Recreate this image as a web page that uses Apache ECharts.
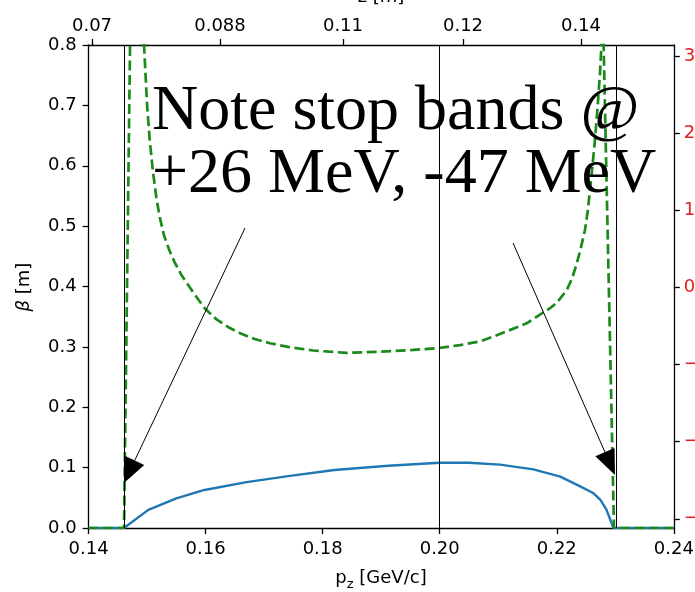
<!DOCTYPE html>
<html>
<head>
<meta charset="utf-8">
<script src="https://cdn.jsdelivr.net/npm/echarts@6/dist/echarts.min.js"></script>
<style>html,body{margin:0;padding:0;background:#fff}#c{width:695px;height:592px}</style>
</head>
<body>
<div id="c"></div>
<script>
// ---- data ----
const pzBlue   = [0.140, 0.14605, 0.1502, 0.1550, 0.1598, 0.1670, 0.1741, 0.1820, 0.1912, 0.2000, 0.2050, 0.2103, 0.2160, 0.2206, 0.2240, 0.2262, 0.2275, 0.2285, 0.2297, 0.2400];
const betaBlue = [0, 0, 0.030, 0.049, 0.063, 0.076, 0.086, 0.096, 0.103, 0.108, 0.108, 0.105, 0.097, 0.085, 0.069, 0.058, 0.046, 0.030, 0, 0];

const pzGreen   = [0.140, 0.14605, 0.1476, 0.14947, 0.15000, 0.15044, 0.15100, 0.15157, 0.15215, 0.15288, 0.15380, 0.15471, 0.15580, 0.15699, 0.15840, 0.15984, 0.16180, 0.16382, 0.16600, 0.16838, 0.17100, 0.17407, 0.17835, 0.18410, 0.18980, 0.19543, 0.19983, 0.20346, 0.20688, 0.20916, 0.21486, 0.21884, 0.2200, 0.22170, 0.2226, 0.22341, 0.2241, 0.22483, 0.2253, 0.22568, 0.2261, 0.22653, 0.2270, 0.22739, 0.2279, 0.22978, 0.240];
const betaGreen = [0, 0, 1.2, 0.800, 0.700, 0.643, 0.590, 0.548, 0.515, 0.485, 0.460, 0.440, 0.420, 0.403, 0.383, 0.364, 0.346, 0.333, 0.322, 0.313, 0.306, 0.300, 0.294, 0.290, 0.292, 0.295, 0.298, 0.303, 0.309, 0.317, 0.339, 0.364, 0.373, 0.394, 0.413, 0.438, 0.463, 0.494, 0.525, 0.560, 0.600, 0.643, 0.700, 0.754, 0.85, 0, 0];

const vLines = [0.14605, 0.2000, 0.2301];

const topTickPz    = [0.14058, 0.16245, 0.18347, 0.20398, 0.22414];
const topTickLabel = ['0.07', '0.088', '0.11', '0.12', '0.14'];

const rightTicks = [-3, -2, -1, 0, 1, 2, 3];

const noteLines = ['Note stop bands @', '+26 MeV, -47 MeV'];
// annotation anchors in data coords [pz, beta]
const arrowStarts = [[0.16673, 0.4969], [0.21253, 0.4720]];
const arrowTips   = [[0.14605, 0.0745], [0.22995, 0.0878]];
const notePos     = [[0.15083, 0.689], [0.15083, 0.584]];

const zip = (a, b) => a.map((v, i) => [v, b[i]]);

const F = 'DejaVu Sans';
const FS = 18;

const chart = echarts.init(document.getElementById('c'), null, {renderer: 'canvas'});

const axisLineStyle = {color: '#000', width: 1.3};

const option = {
  animation: false,
  backgroundColor: '#fff',
  grid: {left: 88.6, right: 21.2, top: 45, bottom: 64, containLabel: false, outerBoundsMode: 'none'},
  xAxis: [
    {
      type: 'value', position: 'bottom', min: 0.14, max: 0.24, interval: 0.02,
      axisLine: {show: true, onZero: false, lineStyle: axisLineStyle},
      axisTick: {show: true, length: 6, lineStyle: axisLineStyle},
      axisLabel: {show: true, margin: 12, color: '#000', fontFamily: F, fontSize: FS,
        formatter: v => v.toFixed(2)},
      splitLine: {show: false}
    },
    {
      type: 'value', position: 'top', min: 0.14, max: 0.24,
      axisLine: {show: true, onZero: false, lineStyle: axisLineStyle},
      axisTick: {show: true, length: 6, customValues: topTickPz, lineStyle: axisLineStyle},
      axisLabel: {show: true, margin: 10, color: '#000', fontFamily: F, fontSize: FS,
        customValues: topTickPz,
        formatter: v => {
          let best = 0, d = 1e9;
          topTickPz.forEach((t, i) => { if (Math.abs(t - v) < d) { d = Math.abs(t - v); best = i; } });
          return topTickLabel[best];
        }},
      splitLine: {show: false}
    }
  ],
  yAxis: [
    {
      type: 'value', position: 'left', min: 0, max: 0.8, interval: 0.1,
      axisLine: {show: true, onZero: false, lineStyle: axisLineStyle},
      axisTick: {show: true, length: 6, lineStyle: axisLineStyle},
      axisLabel: {show: true, margin: 12, color: '#000', fontFamily: F, fontSize: FS,
        formatter: v => v.toFixed(1)},
      splitLine: {show: false}
    },
    {
      type: 'value', position: 'right', min: -3.12, max: 3.15,
      axisLine: {show: true, onZero: false, lineStyle: axisLineStyle},
      axisTick: {show: true, length: 6, customValues: rightTicks, lineStyle: axisLineStyle},
      axisLabel: {show: true, margin: 10, color: '#e02020', fontFamily: F, fontSize: FS,
        customValues: rightTicks, formatter: v => String(Math.round(v)).replace('-', '\u2212')},
      splitLine: {show: false}
    }
  ],
  series: [
    {
      type: 'line', name: 'vlines', xAxisIndex: 0, yAxisIndex: 0, data: [],
      markLine: {
        silent: true, precision: 6, symbol: ['none', 'none'], label: {show: false},
        lineStyle: {color: '#000', width: 1, type: 'solid'},
        emphasis: {disabled: true},
        data: vLines.map(v => ({xAxis: v}))
      }
    },
    {
      type: 'line', name: 'beta1', xAxisIndex: 0, yAxisIndex: 0,
      data: zip(pzBlue, betaBlue), showSymbol: false, symbol: 'none', clip: true,
      lineStyle: {color: '#1f77b4', width: 2.4}
    },
    {
      type: 'line', name: 'beta2', xAxisIndex: 0, yAxisIndex: 0,
      data: zip(pzGreen, betaGreen), showSymbol: false, symbol: 'none', clip: true,
      lineStyle: {color: '#1a8a1a', width: 2.7, type: [10, 4.5]}
    }
  ]
};
chart.setOption(option);

function px(p) { return chart.convertToPixel({xAxisIndex: 0, yAxisIndex: 0}, p); }

const g = [];
// axis names
g.push({type: 'text', x: 381, y: 578, style: {
  text: 'p{s|z} [GeV/c]', font: FS + 'px "' + F + '"', fill: '#000', align: 'center', verticalAlign: 'middle',
  rich: {s: {fontSize: 13, fontFamily: F, lineHeight: 26, verticalAlign: 'bottom'}}
}});
g.push({type: 'text', x: 24, y: 287, rotation: Math.PI / 2, style: {
  text: '{b|β} [m]', font: FS + 'px "' + F + '"', fill: '#000', align: 'center', verticalAlign: 'middle',
  rich: {b: {fontStyle: 'italic', fontSize: FS, fontFamily: F}}
}});
g.push({type: 'text', x: 381, y: -3, style: {
  text: 'z [m]', font: FS + 'px "' + F + '"', fill: '#000', align: 'center', verticalAlign: 'middle'
}});
// note text
noteLines.forEach((t, i) => {
  const p = px(notePos[i]);
  g.push({type: 'text', x: p[0], y: p[1], z: 100, style: {
    text: t, font: '64px "Liberation Serif"', fill: '#000', align: 'left', verticalAlign: 'middle'
  }});
});
// arrows
arrowStarts.forEach((s, i) => {
  const a = px(s), b = px(arrowTips[i]);
  const dx = b[0] - a[0], dy = b[1] - a[1], L = Math.hypot(dx, dy);
  const ux = dx / L, uy = dy / L, hl = 25, hw = 10.5;
  const bx = b[0] - ux * hl, by = b[1] - uy * hl;
  g.push({type: 'line', z: 100, shape: {x1: a[0], y1: a[1], x2: bx, y2: by}, style: {stroke: '#000', lineWidth: 1}});
  g.push({type: 'polygon', z: 100, shape: {points: [[b[0], b[1]], [bx - uy * hw, by + ux * hw], [bx + uy * hw, by - ux * hw]]}, style: {fill: '#000'}});
});
chart.setOption({graphic: g});
</script>
</body>
</html>
